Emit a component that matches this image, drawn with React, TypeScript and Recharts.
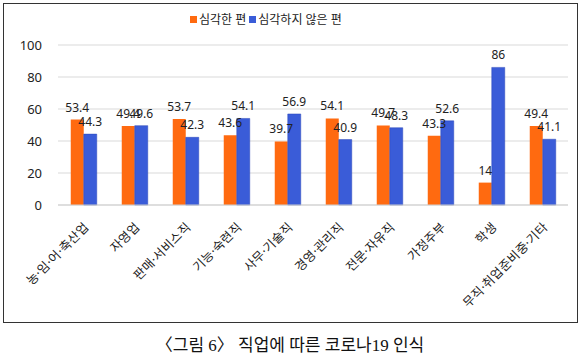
import React from 'react';
import { BarChart, Bar, XAxis, YAxis, CartesianGrid, LabelList } from 'recharts';

const categories = ['농·임·어·축산업', '자영업', '판매·서비스직', '기능·숙련직', '사무·기술직', '경영·관리직', '전문·자유직', '가정주부', '학생', '무직·취업준비중·기타'];
const serious = [53.4, 49.4, 53.7, 43.6, 39.7, 54.1, 49.7, 43.3, 14, 49.4];
const notSerious = [44.3, 49.6, 42.3, 54.1, 56.9, 40.9, 48.3, 52.6, 86, 41.1];
const yTicks = [0, 20, 40, 60, 80, 100];
const seriesNames = ['심각한 편', '심각하지 않은 편'];
const caption = '〈그림 6〉 직업에 따른 코로나19 인식';

const data = categories.map((c, i) => ({ name: c, a: serious[i], b: notSerious[i] }));

const FONT = "'Noto Sans', 'Noto Sans CJK KR', sans-serif";
const ORANGE = '#FF6A10';
const BLUE = '#3A5CD8';

const XTick = (props: any) => {
  const { x, y, payload } = props;
  const tx = x + 6;
  const ty = y + 15;
  return (
    <text x={tx} y={ty} transform={`rotate(-45, ${tx}, ${ty})`} textAnchor="end" fontSize={12.5} fill="#222" fontFamily={FONT} letterSpacing={0.3}>
      {payload.value}
    </text>
  );
};

export default function App() {
  return (
    <div style={{ position: 'absolute', left: 0, top: 0, width: 580, height: 356, background: '#fff' }}>
      <div style={{ position: 'absolute', left: 3, top: 3, width: 573, height: 318, border: '1px solid #333' }} />
      <div style={{ position: 'absolute', left: 190, top: 10, fontFamily: FONT, fontSize: 12, color: '#222', display: 'flex', alignItems: 'center', whiteSpace: 'nowrap' }}>
        <span style={{ display: 'inline-block', width: 7, height: 7, background: ORANGE, marginRight: 2 }} />
        <span style={{ marginRight: 3 }}>{seriesNames[0]}</span>
        <span style={{ display: 'inline-block', width: 7, height: 7, background: BLUE, marginRight: 2 }} />
        <span>{seriesNames[1]}</span>
      </div>
      <div style={{ position: 'absolute', left: 0, top: 0 }}>
        <BarChart width={580} height={330} data={data} margin={{ top: 45, right: 12, left: 8, bottom: 0 }} barGap={0} barCategoryGap="25%">
          <CartesianGrid vertical={false} stroke="#d9d9d9" />
          <XAxis dataKey="name" height={125} tick={<XTick />} tickLine={false} axisLine={{ stroke: '#d0d0d0' }} interval={0} />
          <YAxis domain={[0, 100]} ticks={yTicks} width={50} tickLine={false} axisLine={false} tick={{ fontSize: 13, fill: '#222', fontFamily: FONT }} tickMargin={10} />
          <Bar dataKey="a" fill={ORANGE} isAnimationActive={false}>
            <LabelList dataKey="a" position="top" offset={8} style={{ fontSize: 12, fill: '#222', fontFamily: FONT }} />
          </Bar>
          <Bar dataKey="b" fill={BLUE} stroke="#2A47B8" strokeWidth={0.5} isAnimationActive={false}>
            <LabelList dataKey="b" position="top" offset={8} style={{ fontSize: 12, fill: '#222', fontFamily: FONT }} />
          </Bar>
        </BarChart>
      </div>
      <div style={{ position: 'absolute', left: 0, width: 580, top: 331, textAlign: 'center', fontFamily: "'Liberation Serif', 'Noto Sans CJK KR', serif", fontSize: 17, color: '#111', whiteSpace: 'nowrap' }}>
        {caption}
      </div>
    </div>
  );
}
